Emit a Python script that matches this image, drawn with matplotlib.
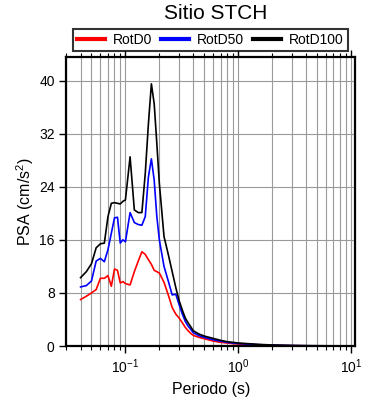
import matplotlib
matplotlib.use("Agg")
import matplotlib.pyplot as plt
from matplotlib.ticker import LogLocator, MultipleLocator, NullFormatter

plt.rcParams['font.family'] = ['Liberation Sans', 'DejaVu Sans']
plt.rcParams['mathtext.default'] = 'regular'

# periodos (s)
periodo = [0.04, 0.045, 0.05, 0.055, 0.06, 0.065, 0.07, 0.075, 0.08, 0.085,
           0.09, 0.095, 0.1, 0.11, 0.12, 0.13, 0.14, 0.15, 0.16, 0.17,
           0.18, 0.19, 0.2, 0.22, 0.24, 0.26, 0.28, 0.3, 0.32, 0.34,
           0.36, 0.38, 0.4, 0.45, 0.5, 0.6, 0.7, 0.8, 0.9, 1.0,
           1.5, 2.0, 3.0, 4.0, 5.0, 7.5, 10.0]

rotd0 = [7.0, 7.5, 8.0, 8.5, 10.2, 10.2, 10.6, 9.0, 11.6, 11.4,
         9.5, 9.7, 9.4, 9.2, 11.2, 12.8, 14.2, 13.8, 13.0, 12.3,
         11.4, 11.2, 11.0, 9.6, 7.7, 5.8, 4.8, 4.2, 3.5, 2.8,
         2.3, 1.9, 1.6, 1.3, 1.1, 0.75, 0.55, 0.45, 0.35, 0.3,
         0.17, 0.1, 0.05, 0.03, 0.02, 0.012, 0.008]

rotd50 = [8.9, 9.1, 9.8, 12.8, 13.2, 12.7, 14.5, 17.0, 19.3, 19.4,
          15.5, 16.0, 15.7, 20.1, 18.6, 18.3, 18.2, 19.5, 25.5, 28.2,
          25.0, 19.5, 16.0, 12.0, 9.8, 7.7, 7.8, 6.2, 4.8, 3.7,
          3.0, 2.5, 2.0, 1.55, 1.3, 0.95, 0.72, 0.55, 0.45, 0.38,
          0.2, 0.12, 0.06, 0.04, 0.03, 0.02, 0.01]

rotd100 = [10.3, 11.2, 12.4, 14.8, 15.4, 15.5, 19.5, 21.5, 21.6, 21.5,
           21.4, 21.8, 22.0, 28.5, 20.5, 20.1, 20.1, 26.0, 33.5, 39.5,
           36.5, 30.5, 24.5, 16.5, 13.8, 11.2, 8.8, 6.8, 5.4, 4.2,
           3.5, 2.9, 2.3, 1.8, 1.5, 1.15, 0.85, 0.65, 0.55, 0.45,
           0.25, 0.15, 0.08, 0.05, 0.04, 0.02, 0.015]

fig = plt.figure(figsize=(3.9, 4.0), dpi=100)
ax = fig.add_axes([0.1705, 0.135, 0.7398, 0.7218])

l0, = ax.plot(periodo, rotd0, color="red", lw=1.2)
l1, = ax.plot(periodo, rotd50, color="blue", lw=1.2)
l2, = ax.plot(periodo, rotd100, color="black", lw=1.2)

ax.set_xscale("log")
ax.set_xlim(0.03, 10.9)
ax.set_ylim(0, 43.5)
ax.yaxis.set_major_locator(MultipleLocator(8))
ax.xaxis.set_major_locator(LogLocator(base=10))
ax.xaxis.set_minor_locator(LogLocator(base=10, subs=range(2, 10)))
ax.xaxis.set_minor_formatter(NullFormatter())

ax.grid(True, which="major", color="#9a9a9a", lw=0.8)
ax.grid(True, which="minor", axis="x", color="#9a9a9a", lw=0.8)
ax.set_axisbelow(True)

for s in ax.spines.values():
    s.set_linewidth(1.6)

ax.tick_params(axis="x", which="both", direction="out", top=True, bottom=True, labelsize=10)
ax.tick_params(axis="x", which="major", length=5, width=1)
ax.tick_params(axis="x", which="minor", length=3, width=0.8)
ax.tick_params(axis="y", which="major", direction="out", left=True, right=False, length=5, width=1, labelsize=10)

ax.set_xlabel("Periodo (s)", fontsize=11.5)
ax.set_ylabel("PSA (cm/s$^2$)", fontsize=11.5, labelpad=2)

fig.text(0.553, 0.966, "Sitio STCH", ha="center", va="center", fontsize=15)

leg = fig.legend([l0, l1, l2], ["RotD0", "RotD50", "RotD100"], ncol=3,
                 loc="lower left", bbox_to_anchor=(0.187, 0.8725, 0.705, 0.055),
                 mode="expand", fontsize=10, frameon=True, fancybox=False,
                 borderaxespad=0, handlelength=2.0, handletextpad=0.6,
                 borderpad=0.3)
leg.get_frame().set_edgecolor("black")
leg.get_frame().set_linewidth(1.5)
for h in leg.get_lines():
    h.set_linewidth(3)

fig.savefig("out.png", dpi=100)
